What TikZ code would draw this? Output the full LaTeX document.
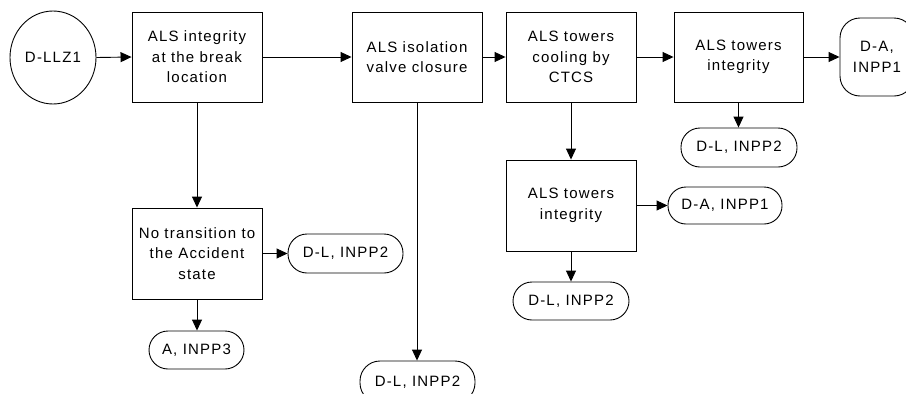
\documentclass[tikz,border=0pt]{standalone}
\usepackage{fontspec}
\setmainfont{Liberation Sans}[LetterSpace=8]
\usetikzlibrary{arrows.meta,shapes.geometric}
\begin{document}
\begin{tikzpicture}[x=1pt,y=-1pt,
  every node/.style={font=\fontsize{15}{20.5}\selectfont, align=center, inner sep=0pt},
  stepbox/.style={draw, line width=0.9pt, rectangle, minimum width=130pt, minimum height=90pt},
  term/.style={draw, line width=0.9pt, rectangle, rounded corners=19pt, minimum height=38pt},
  startell/.style={draw, line width=0.9pt, ellipse, minimum width=86pt, minimum height=93pt},
  arr/.style={line width=0.9pt, -{Triangle[length=11pt,width=10pt]}}]
\useasboundingbox (0,0) rectangle (906,394);
\clip (0,0) rectangle (906,394);
\node[startell] (c) at (53,57.5) {D-LLZ1};
\node[stepbox] (b1) at (197,57) {ALS integrity\\at the break\\location};
\node[stepbox] (b2) at (417,57) {ALS isolation\\valve closure};
\node[stepbox] (b3) at (571,57) {ALS towers\\cooling by\\CTCS};
\node[stepbox, minimum width=129pt] (b4) at (738.5,57) {ALS towers\\integrity};
\node[stepbox, minimum height=91pt] (b5) at (571,205.5) {ALS towers\\integrity};
\node[stepbox, minimum height=91pt] (b6) at (197,253.5) {No transition to\\the Accident\\state};
\node[term, minimum width=74pt, minimum height=78pt, rounded corners=20pt] (t7) at (877,57) {D-A,\\INPP1};
\node[term, minimum width=116pt, minimum height=39pt] (t1) at (739,147.5) {D-L, INPP2};
\node[term, minimum width=114pt, minimum height=37pt, rounded corners=18pt] (t2) at (725,205.5) {D-A, INPP1};
\node[term, minimum width=116pt] (t3) at (571,301) {D-L, INPP2};
\node[term, minimum width=115pt, minimum height=39pt] (t4) at (345.5,253.5) {D-L, INPP2};
\node[term, minimum width=95pt] (t5) at (196.5,350) {A, INPP3};
\node[term, minimum width=115pt, minimum height=42pt, rounded corners=20pt] (t6) at (417.5,382) {D-L, INPP2};
\draw[arr] (c.east) -- (b1.west);
\draw[arr] (b1.east) -- (b2.west);
\draw[arr] (b2.east) -- (b3.west);
\draw[arr] (b3.east) -- (b4.west);
\draw[arr] (b4.east) -- (t7.west);
\draw[arr] (b4.south) -- (b4.south |- t1.north);
\draw[arr] (b3.south) -- (b5.north);
\draw[arr] (b5.east) -- (t2.west);
\draw[arr] (b5.south) -- (t3.north);
\draw[arr] (b1.south) -- (b6.north);
\draw[arr] (b6.east) -- (t4.west);
\draw[arr] (b6.south) -- (b6.south |- t5.north);
\draw[arr] (b2.south) -- (b2.south |- t6.north);
\end{tikzpicture}
\end{document}
